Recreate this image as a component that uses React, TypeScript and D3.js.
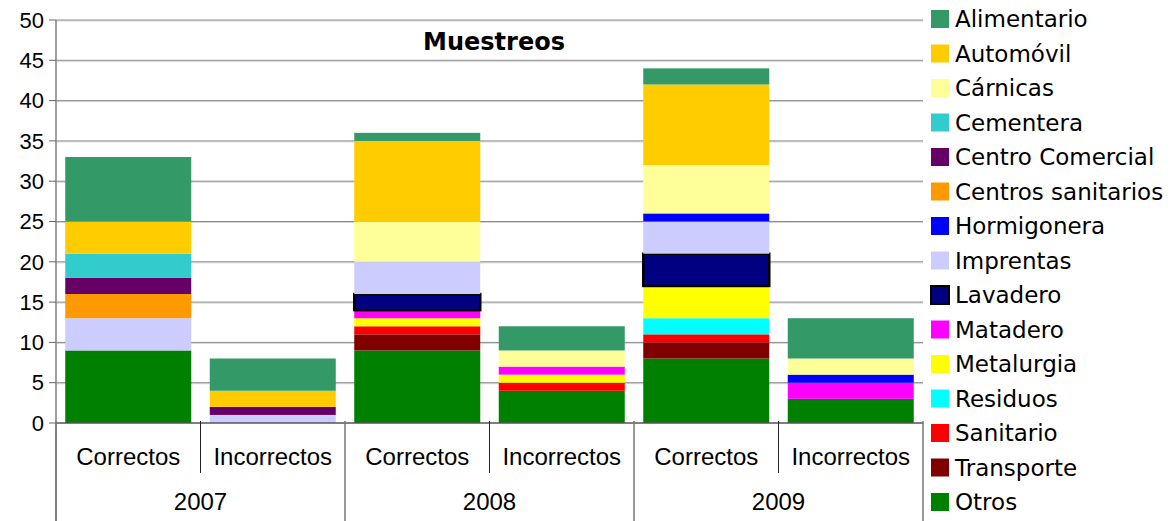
import React from "react";
import * as d3 from "d3";

const years = ["2007", "2008", "2009"];
const statuses = ["Correctos", "Incorrectos"];
const categories = [
  "2007|Correctos", "2007|Incorrectos",
  "2008|Correctos", "2008|Incorrectos",
  "2009|Correctos", "2009|Incorrectos",
];
// legend order (top to bottom)
const seriesNames = [
  "Alimentario", "Automóvil", "Cárnicas", "Cementera", "Centro Comercial",
  "Centros sanitarios", "Hormigonera", "Imprentas", "Lavadero", "Matadero",
  "Metalurgia", "Residuos", "Sanitario", "Transporte", "Otros",
];
const seriesColors = [
  "#339966", "#FFCC00", "#FFFF99", "#33CCCC", "#660066",
  "#FF9900", "#0000FF", "#CCCCFF", "#000080", "#FF00FF",
  "#FFFF00", "#00FFFF", "#FF0000", "#800000", "#008000",
];
// values per series, one per category (same order as categories)
const Alimentario = [8, 4, 1, 3, 2, 5];
const Automovil = [4, 2, 10, 0, 10, 0];
const Carnicas = [0, 0, 5, 2, 6, 2];
const Cementera = [3, 0, 0, 0, 0, 0];
const CentroComercial = [2, 1, 0, 0, 0, 0];
const CentrosSanitarios = [3, 0, 0, 0, 0, 0];
const Hormigonera = [0, 0, 0, 0, 1, 1];
const Imprentas = [4, 1, 4, 0, 4, 0];
const Lavadero = [0, 0, 2, 0, 4, 0];
const Matadero = [0, 0, 1, 1, 0, 2];
const Metalurgia = [0, 0, 1, 1, 4, 0];
const Residuos = [0, 0, 0, 0, 2, 0];
const Sanitario = [0, 0, 1, 1, 1, 0];
const Transporte = [0, 0, 2, 0, 2, 0];
const Otros = [9, 0, 9, 4, 8, 3];
const seriesValues = [
  Alimentario, Automovil, Carnicas, Cementera, CentroComercial,
  CentrosSanitarios, Hormigonera, Imprentas, Lavadero, Matadero,
  Metalurgia, Residuos, Sanitario, Transporte, Otros,
];
const yTicks = [0, 5, 10, 15, 20, 25, 30, 35, 40, 45, 50];
const title = "Muestreos";

const W = 1175;
const H = 521;
const left = 56;
const right = 923;
const top = 20;
const bottom = 423;

export default function App() {
  const x = d3.scaleBand<string>().domain(categories).range([left, right]).paddingInner(0.128).paddingOuter(0.064);
  const y = d3.scaleLinear().domain([0, 50]).range([bottom, top]);
  const step = x.step();

  // stack order bottom -> top is reverse of legend
  const stackOrder = d3.range(seriesNames.length).reverse();
  const rows = categories.map((c, ci) => {
    const r: any = { cat: c };
    seriesNames.forEach((s, si) => (r[s] = seriesValues[si][ci]));
    return r;
  });
  const stack = d3.stack<any>().keys(stackOrder.map((i) => seriesNames[i]));
  const stacked = stack(rows);

  const sans = "'Liberation Sans', Arial, sans-serif";
  const legendFont = "'DejaVu Sans', Verdana, sans-serif";

  const lavaderoIdx = seriesNames.indexOf("Lavadero");

  return (
    <svg width={W} height={H} style={{ position: "absolute", left: 0, top: 0, background: "#fff" }}>
      {/* gridlines */}
      {yTicks.filter((t) => t > 0).map((t) => (
        <g key={"g" + t}>
          <line x1={left} x2={right} y1={y(t) + 1} y2={y(t) + 1} stroke="#d4d4d4" strokeWidth={1} />
          <line x1={left} x2={right} y1={y(t)} y2={y(t)} stroke="#8c8c8c" strokeWidth={1} />
        </g>
      ))}
      {/* bars */}
      {stacked.map((layer) => {
        const si = seriesNames.indexOf(layer.key);
        return layer.map((d, ci) => {
          const v = d[1] - d[0];
          if (v <= 0) return null;
          const isLav = si === lavaderoIdx;
          return (
            <rect
              key={layer.key + ci}
              x={x(categories[ci])!}
              y={y(d[1])}
              width={x.bandwidth()}
              height={y(d[0]) - y(d[1])}
              fill={seriesColors[si]}
              stroke={isLav ? "#000" : "none"}
              strokeWidth={isLav ? 2.5 : 0}
            />
          );
        });
      })}
      {/* y axis */}
      <line x1={left} x2={left} y1={top} y2={H} stroke="#808080" strokeWidth={1.5} />
      {yTicks.map((t) => (
        <g key={"t" + t}>
          <line x1={left - 7} x2={left} y1={y(t)} y2={y(t)} stroke="#666" strokeWidth={1} />
          <text x={left - 12} y={y(t)} dy="0.35em" textAnchor="end" fontFamily={sans} fontSize={22} fill="#000">
            {t}
          </text>
        </g>
      ))}
      {/* x axis */}
      <line x1={left} x2={right} y1={bottom} y2={bottom} stroke="#555" strokeWidth={1.5} />
      {d3.range(categories.length + 1).map((i) => {
        const xx = left + i * step;
        const isYear = i % 2 === 0;
        return (
          <line key={"s" + i} x1={xx} x2={xx} y1={bottom - 2} y2={isYear ? H : bottom + 50}
            stroke={isYear ? "#777" : "#222"} strokeWidth={isYear ? 1.5 : 1} />
        );
      })}
      {categories.map((c, ci) => (
        <text key={"c" + c} x={x(c)! + x.bandwidth() / 2} y={457} dy="0.35em" textAnchor="middle"
          fontFamily={sans} fontSize={24} fill="#000">
          {statuses[ci % 2]}
        </text>
      ))}
      {years.map((yr, i) => (
        <text key={"y" + yr} x={left + step * (2 * i + 1)} y={502} dy="0.35em" textAnchor="middle"
          fontFamily={sans} fontSize={24} fill="#000">
          {yr}
        </text>
      ))}
      {/* title */}
      <text x={494} y={42} dy="0.35em" textAnchor="middle" fontFamily={legendFont} fontWeight="bold" fontSize={24} fill="#000">
        {title}
      </text>
      {/* legend */}
      {seriesNames.map((s, i) => {
        const cy = 19 + i * 34.5;
        const isLav = i === lavaderoIdx;
        return (
          <g key={"l" + s}>
            <rect x={931} y={cy - 9} width={18} height={18} fill={seriesColors[i]}
              stroke={isLav ? "#000" : "none"} strokeWidth={isLav ? 2 : 0} />
            <text x={955} y={cy} dy="0.36em" fontFamily={legendFont} fontSize={23} fill="#000">
              {s}
            </text>
          </g>
        );
      })}
    </svg>
  );
}
